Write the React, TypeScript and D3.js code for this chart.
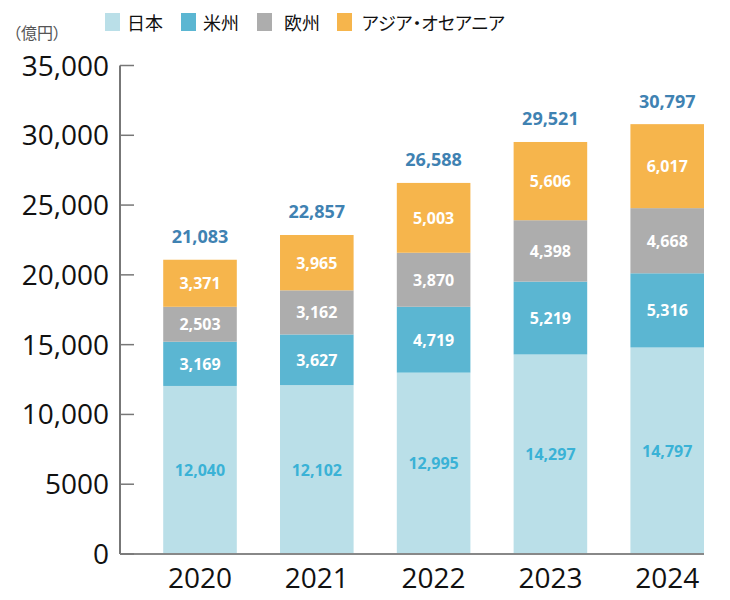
import React from "react";
import * as d3 from "d3";

const years = ["2020", "2021", "2022", "2023", "2024"];
const seriesNames = ["日本", "米州", "欧州", "アジア・オセアニア"];
const japan = [12040, 12102, 12995, 14297, 14797];
const americas = [3169, 3627, 4719, 5219, 5316];
const europe = [2503, 3162, 3870, 4398, 4668];
const asia = [3371, 3965, 5003, 5606, 6017];
const totals = [21083, 22857, 26588, 29521, 30797];
const yTicks = [0, 5000, 10000, 15000, 20000, 25000, 30000, 35000];

const colors = ["#badfe8", "#5bb6d2", "#adadad", "#f6b54c"];
const labelColors = ["#3ab2d6", "#ffffff", "#ffffff", "#ffffff"];
const legendX = [105, 181, 257, 337];
const legendTextX = [127, 203, 284, 362];

export default function App() {
  const W = 730, H = 600;
  const x0 = 120, x1 = 704;
  const y = d3.scaleLinear().domain([0, 35000]).range([554, 65.5]);
  const x = d3.scaleBand().domain(years).range([x0, x1]).paddingInner(0.37).paddingOuter(0.185).align(1);
  const rows = years.map((yr, i) => ({ year: yr, s0: japan[i], s1: americas[i], s2: europe[i], s3: asia[i] }));
  const stack = d3.stack<any>().keys(["s0", "s1", "s2", "s3"]);
  const layers = stack(rows);
  const fmt = d3.format(",");
  const font = "'Open Sans', 'Noto Sans', sans-serif";
  const cjk = "'Noto Sans CJK JP', sans-serif";

  return (
    <svg width={W} height={H} style={{ position: "absolute", left: 0, top: 0 }}>
      <rect width={W} height={H} fill="#fff" />
      <text x={13} y={39} fontFamily={cjk} fontSize={16} fill="#555" style={{ fontFeatureSettings: "'palt'" }}>（億円）</text>
      {seriesNames.map((n, i) => (
        <g key={n}>
          <rect x={legendX[i]} y={13} width={15} height={18} fill={colors[i]} />
          <text x={legendTextX[i]} y={30} fontFamily={cjk} fontSize={18} fill="#111"
            style={{ fontFeatureSettings: "'palt'" }}>{n}</text>
        </g>
      ))}
      {layers.map((layer, li) => (
        <g key={li}>
          {layer.map((d: any, i: number) => {
            const bx = x(years[i])!;
            const top = y(d[1]);
            const bot = y(d[0]);
            return (
              <g key={i}>
                <rect x={bx} y={top} width={x.bandwidth()} height={bot - top} fill={colors[li]} />
                <text x={bx + x.bandwidth() / 2} y={(top + bot) / 2 + 6} textAnchor="middle"
                  fontFamily={font} fontWeight={700} fontSize={16} fill={labelColors[li]}>
                  {fmt(d[1] - d[0])}
                </text>
              </g>
            );
          })}
        </g>
      ))}
      {totals.map((t, i) => (
        <text key={i} x={x(years[i])! + x.bandwidth() / 2} y={y(t) - 16.5} textAnchor="middle"
          fontFamily={font} fontWeight={700} fontSize={18} fill="#3f82b2">{fmt(t)}</text>
      ))}
      <line x1={x0} x2={x0} y1={y(35000)} y2={y(0)} stroke="#777" strokeWidth={2} />
      <line x1={x0} x2={x1} y1={y(0)} y2={y(0)} stroke="#888" strokeWidth={2} />
      {yTicks.map((t) => (
        <g key={t}>
          <line x1={x0} x2={x0 + 14} y1={y(t)} y2={y(t)} stroke="#777" strokeWidth={1.5} />
          <text x={109} y={y(t) + 10} textAnchor="end" fontFamily={font} fontSize={28} fill="#111">
            {t === 5000 || t === 0 ? String(t) : fmt(t)}
          </text>
        </g>
      ))}
      {years.map((yr) => (
        <text key={yr} x={x(yr)! + x.bandwidth() / 2} y={588} textAnchor="middle"
          fontFamily={font} fontSize={28} fill="#111">{yr}</text>
      ))}
    </svg>
  );
}
